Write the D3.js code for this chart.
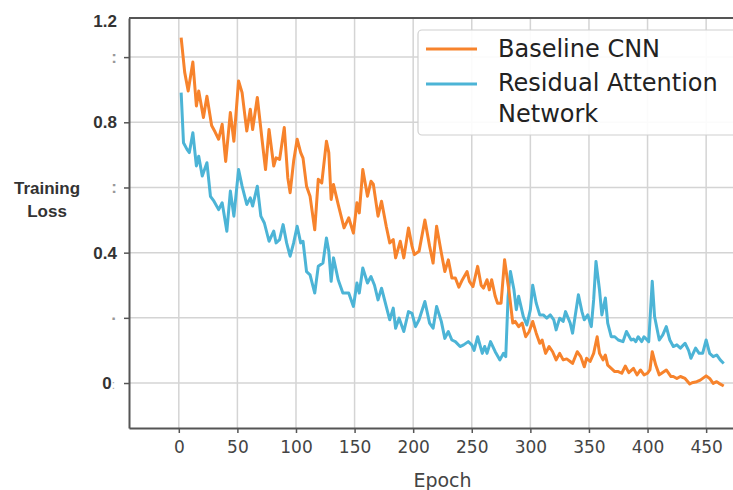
<!DOCTYPE html>
<html>
<head>
<meta charset="utf-8">
<script src="https://cdn.jsdelivr.net/npm/d3@7"></script>
<style>
  body { margin: 0; background: #fff; }
  svg { display: block; }
</style>
</head>
<body>
<svg id="chart" width="733" height="490"></svg>
<script>
// values
const baselineEpochs = [2,5,8,12,15,17,21,24,28,31,34,37,40,44,47,51,54,58,61,63,67,71,74,77,81,83,86,90,93,95,98,101,104,106,109,112,116,119,122,126,128,130,132,136,141,145,149,152,154,157,161,164,166,170,173,177,180,183,185,189,192,196,199,201,205,210,214,217,220,224,227,230,233,236,239,242,246,248,251,255,258,260,263,265,267,270,272,275,278,280,282,285,287,290,293,296,299,302,305,308,310,313,316,319,322,325,328,331,334,336,340,343,346,348,351,354,357,359,362,364,366,369,372,375,378,381,384,388,391,394,397,400,402,404,407,410,412,416,420,422,425,428,432,436,438,442,445,450,453,456,459,461,465];
const baselineLoss = [1.06,0.954,0.896,0.985,0.85,0.896,0.815,0.88,0.79,0.77,0.748,0.794,0.68,0.83,0.742,0.927,0.891,0.773,0.84,0.778,0.876,0.748,0.655,0.778,0.666,0.691,0.686,0.784,0.63,0.584,0.681,0.748,0.707,0.69,0.604,0.573,0.47,0.625,0.614,0.742,0.707,0.563,0.609,0.548,0.476,0.507,0.46,0.553,0.522,0.655,0.573,0.619,0.61,0.512,0.558,0.481,0.43,0.44,0.384,0.435,0.384,0.476,0.42,0.394,0.404,0.50,0.42,0.368,0.481,0.40,0.342,0.378,0.322,0.322,0.294,0.317,0.342,0.312,0.296,0.358,0.30,0.291,0.317,0.286,0.317,0.266,0.245,0.245,0.378,0.327,0.276,0.184,0.189,0.173,0.184,0.142,0.158,0.189,0.153,0.122,0.132,0.091,0.112,0.096,0.071,0.091,0.071,0.074,0.066,0.06,0.096,0.081,0.05,0.076,0.066,0.091,0.142,0.091,0.071,0.086,0.055,0.045,0.035,0.035,0.03,0.052,0.032,0.045,0.025,0.04,0.025,0.03,0.04,0.096,0.055,0.025,0.03,0.04,0.02,0.02,0.014,0.02,0.014,-0.003,0.001,0.004,0.009,0.022,0.014,-0.001,0.004,-0.001,-0.009];

const residualEpochs = [2,4,7,9,12,15,17,20,24,27,30,34,37,41,44,47,51,54,58,61,63,67,70,73,77,81,83,86,89,92,95,98,101,104,106,109,112,116,119,123,126,128,130,132,136,140,145,149,152,154,157,161,164,167,170,173,177,180,183,185,188,192,196,199,202,205,210,214,217,220,224,227,230,233,236,240,243,247,250,252,255,259,261,263,266,270,274,277,279,281,283,286,288,290,294,297,300,302,305,308,311,314,317,320,322,325,328,330,334,336,341,344,346,349,352,354,356,359,361,364,366,369,372,375,379,382,386,388,390,392,395,397,401,404,406,410,413,416,419,422,425,428,432,435,437,441,444,447,450,453,456,459,462,465];
const residualLoss = [0.891,0.737,0.717,0.707,0.768,0.666,0.696,0.635,0.676,0.573,0.558,0.532,0.553,0.466,0.589,0.512,0.655,0.604,0.548,0.568,0.543,0.604,0.512,0.491,0.435,0.466,0.43,0.44,0.486,0.43,0.389,0.43,0.481,0.43,0.435,0.342,0.332,0.276,0.358,0.368,0.445,0.404,0.312,0.384,0.317,0.276,0.276,0.235,0.307,0.276,0.353,0.307,0.327,0.30,0.255,0.291,0.235,0.194,0.23,0.168,0.199,0.158,0.219,0.214,0.173,0.194,0.25,0.184,0.168,0.235,0.189,0.137,0.158,0.132,0.127,0.112,0.117,0.127,0.117,0.10,0.142,0.091,0.112,0.091,0.127,0.096,0.071,0.091,0.081,0.266,0.342,0.286,0.225,0.266,0.204,0.178,0.225,0.30,0.245,0.209,0.209,0.199,0.209,0.194,0.163,0.199,0.189,0.219,0.184,0.153,0.271,0.219,0.194,0.209,0.173,0.255,0.373,0.286,0.209,0.261,0.184,0.142,0.142,0.132,0.127,0.158,0.132,0.135,0.127,0.142,0.127,0.142,0.127,0.312,0.204,0.132,0.148,0.173,0.132,0.112,0.117,0.107,0.122,0.10,0.076,0.107,0.091,0.091,0.132,0.091,0.081,0.086,0.071,0.06];

const seriesNames = ["Baseline CNN", "Residual Attention Network"];
const seriesColors = ["#f7832c", "#4cb4d6"];

const xTickValues = [0, 50, 100, 150, 200, 250, 300, 350, 400, 450];
const yTickValues = [0, 0.2, 0.4, 0.6, 0.8, 1.0];
const yTickLabels = ["0", "\u00b7", "0.4", ":", "0.8", ":"];
const yTopLabel = "1.2";

const svg = d3.select("#chart");
const W = 733, H = 490;
const margin = { left: 129, top: 18, bottom: 62 };

svg.append("rect").attr("width", W).attr("height", H).attr("fill", "#fff");

const x = d3.scaleLinear().domain([-42.5, 480]).range([margin.left, 741.3]);
const y = d3.scaleLinear().domain([-0.138, 1.12]).range([H - margin.bottom, margin.top]);

const plotW = 760 - margin.left;
const plotH = (H - margin.bottom) - margin.top;

// grid
const grid = svg.append("g");
grid.selectAll("line.vx").data(xTickValues).join("line")
  .attr("x1", d => x(d)).attr("x2", d => x(d))
  .attr("y1", margin.top).attr("y2", H - margin.bottom)
  .attr("stroke", "#d4d4d4").attr("stroke-width", 1.5);
grid.selectAll("line.hy").data(yTickValues).join("line")
  .attr("x1", margin.left).attr("x2", margin.left + plotW)
  .attr("y1", d => y(d)).attr("y2", d => y(d))
  .attr("stroke", "#d4d4d4").attr("stroke-width", 1.5);

// lines
const line = d3.line().x(d => x(d[0])).y(d => y(d[1]));
const series = [
  d3.zip(baselineEpochs, baselineLoss),
  d3.zip(residualEpochs, residualLoss)
];
svg.append("clipPath").attr("id", "clip").append("rect")
  .attr("x", margin.left).attr("y", margin.top).attr("width", plotW).attr("height", plotH);
const lines = svg.append("g").attr("clip-path", "url(#clip)");
// blue drawn first, orange on top in the early part like the reference
[1, 0].forEach(i => {
  lines.append("path").datum(series[i])
    .attr("d", line)
    .attr("fill", "none")
    .attr("stroke", seriesColors[i])
    .attr("stroke-width", 3)
    .attr("stroke-linejoin", "round");
});

// axes
const xAxis = svg.append("g")
  .attr("transform", `translate(0,${H - margin.bottom})`)
  .call(d3.axisBottom(x).tickValues(xTickValues).tickSize(5).tickSizeOuter(0).tickPadding(8));
xAxis.select(".domain").attr("stroke", "#555").attr("stroke-width", 2);
xAxis.selectAll(".tick line").attr("stroke", "#555").attr("stroke-width", 1.5);
xAxis.selectAll(".tick text")
  .attr("font-family", "DejaVu Sans, sans-serif").attr("font-size", 17).attr("fill", "#444");

const yAxis = svg.append("g")
  .attr("transform", `translate(${margin.left},0)`)
  .call(d3.axisLeft(y).tickValues(yTickValues).tickSize(5).tickSizeOuter(0).tickPadding(7)
    .tickFormat((d, i) => yTickLabels[i]));
yAxis.select(".domain").attr("stroke", "#555").attr("stroke-width", 2);
yAxis.selectAll(".tick line").attr("stroke", "#555").attr("stroke-width", 1.5);
yAxis.selectAll(".tick text")
  .attr("font-family", "Liberation Sans, Arial, sans-serif").attr("font-size", 17)
  .attr("font-weight", "bold")
  .attr("fill", (d, i) => /[0-9]/.test(yTickLabels[i]) ? "#333" : "#999");
yAxis.selectAll(".tick text").filter(d => d === 0)
  .attr("dx", -2)
  .append("tspan").attr("fill", "#aaa").attr("font-size", 12).attr("font-weight", "normal").text(":");

svg.append("text")
  .attr("x", 117).attr("y", y(1.12) + 9)
  .attr("text-anchor", "end")
  .attr("font-family", "Liberation Sans, Arial, sans-serif").attr("font-size", 17)
  .attr("font-weight", "bold").attr("fill", "#333")
  .text(yTopLabel);

// top frame
svg.append("line")
  .attr("x1", margin.left).attr("x2", W)
  .attr("y1", margin.top).attr("y2", margin.top)
  .attr("stroke", "#555").attr("stroke-width", 2);

// axis titles
svg.append("text")
  .attr("x", x(225)).attr("y", 487)
  .attr("text-anchor", "middle")
  .attr("font-family", "DejaVu Sans, sans-serif").attr("font-size", 19).attr("fill", "#444")
  .text("Epoch");

const yTitle = svg.append("text")
  .attr("text-anchor", "middle")
  .attr("font-family", "Liberation Sans, Arial, sans-serif").attr("font-size", 17)
  .attr("font-weight", "bold").attr("fill", "#333");
yTitle.append("tspan").attr("x", 47).attr("y", 194).text("Training");
yTitle.append("tspan").attr("x", 47).attr("y", 217).text("Loss");

// legend
const legend = svg.append("g");
legend.append("rect")
  .attr("x", 418).attr("y", 30).attr("width", 340).attr("height", 105).attr("rx", 4)
  .attr("fill", "#fff").attr("fill-opacity", 0.9)
  .attr("stroke", "#d0d0d0").attr("stroke-width", 1.2);
const legendRows = [
  { lineY: 49, text: [seriesNames[0]], textY: 57 },
  { lineY: 84, text: ["Residual Attention", "Network"], textY: 91 }
];
legendRows.forEach((r, i) => {
  legend.append("line")
    .attr("x1", 426).attr("x2", 477).attr("y1", r.lineY).attr("y2", r.lineY)
    .attr("stroke", seriesColors[i]).attr("stroke-width", 3);
  const t = legend.append("text")
    .attr("font-family", "DejaVu Sans, sans-serif").attr("font-size", 24).attr("fill", "#222");
  r.text.forEach((s, k) => {
    t.append("tspan").attr("x", 498).attr("y", r.textY + k * 31).text(s);
  });
});
</script>
</body>
</html>
